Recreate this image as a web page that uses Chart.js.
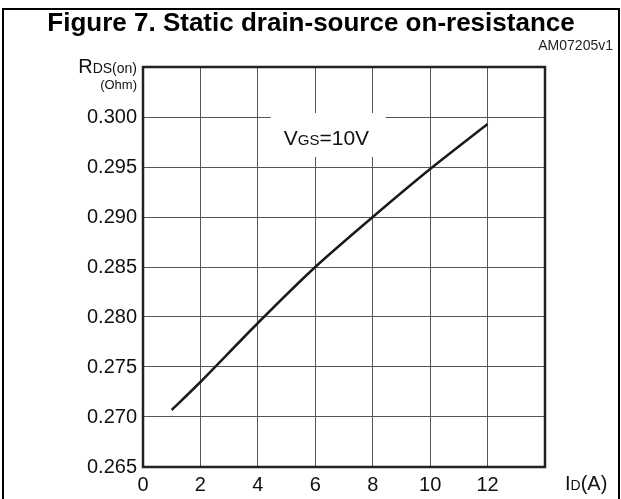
<!DOCTYPE html>
<html>
<head>
<meta charset="utf-8">
<script src="https://cdn.jsdelivr.net/npm/chart.js@4/dist/chart.umd.min.js"></script>
<style>
  html, body { margin: 0; padding: 0; background: #fff; }
  #wrap { width: 621px; height: 499px; position: relative; }
</style>
</head>
<body>
<div id="wrap"><canvas id="rdsChart"></canvas></div>
<script>
// drain current (A) and on-resistance (Ohm)
var idValues = [1, 2, 4, 6, 8, 10, 12];
var rdsValues = [0.2707, 0.2735, 0.2794, 0.2850, 0.2900, 0.2948, 0.2993];
var xTicks = [0, 2, 4, 6, 8, 10, 12];
var yTicks = [0.265, 0.270, 0.275, 0.280, 0.285, 0.290, 0.295, 0.300];

var FONT = '"Liberation Sans", Arial, sans-serif';

function drawSubText(ctx, x, y, parts) {
  // parts: [text, size] drawn left to right on one baseline
  var cx = x;
  parts.forEach(function(p) {
    ctx.font = p[1] + 'px ' + FONT;
    ctx.fillText(p[0], cx, y);
    cx += ctx.measureText(p[0]).width;
  });
  return cx - x;
}

function measureParts(ctx, parts) {
  var w = 0;
  parts.forEach(function(p) {
    ctx.font = p[1] + 'px ' + FONT;
    w += ctx.measureText(p[0]).width;
  });
  return w;
}

var decorPlugin = {
  id: 'decor',
  beforeDraw: function(chart) {
    var ctx = chart.ctx;
    ctx.save();
    ctx.fillStyle = '#fff';
    ctx.fillRect(0, 0, chart.width, chart.height);
    ctx.restore();
  },
  beforeDatasetsDraw: function(chart) {
    var ctx = chart.ctx;
    var xs = chart.scales.x, ys = chart.scales.y;
    // white box behind the VGS label
    var bx = xs.getPixelForValue(4.45), ex = xs.getPixelForValue(8.45);
    var by = ys.getPixelForValue(0.3004), ey = ys.getPixelForValue(0.296);
    ctx.save();
    ctx.fillStyle = '#fff';
    ctx.fillRect(bx, by, ex - bx, ey - by);
    ctx.fillStyle = '#111';
    ctx.textBaseline = 'alphabetic';
    drawSubText(ctx, bx + 13, by + 32, [['V', 21], ['GS', 15], ['=10V', 21]]);
    ctx.restore();
  },
  afterDraw: function(chart) {
    var ctx = chart.ctx;
    var a = chart.chartArea;
    ctx.save();
    // plot frame
    ctx.strokeStyle = '#222';
    ctx.lineWidth = 2.5;
    ctx.strokeRect(a.left, a.top, a.right - a.left, a.bottom - a.top);
    // outer figure frame
    ctx.strokeStyle = '#000';
    ctx.lineWidth = 2;
    ctx.beginPath();
    ctx.moveTo(3, 499);
    ctx.lineTo(3, 9);
    ctx.lineTo(619, 9);
    ctx.lineTo(619, 499);
    ctx.stroke();
    // title
    ctx.fillStyle = '#000';
    ctx.textAlign = 'center';
    ctx.textBaseline = 'alphabetic';
    ctx.font = 'bold 26px ' + FONT;
    ctx.fillText('Figure 7. Static drain-source on-resistance', 311, 31);
    // figure code
    ctx.textAlign = 'right';
    ctx.font = '14px ' + FONT;
    ctx.fillStyle = '#222';
    ctx.fillText('AM07205v1', 613, 50);
    // y axis title
    ctx.textAlign = 'left';
    ctx.fillStyle = '#111';
    var yParts = [['R', 20], ['DS(on)', 14]];
    drawSubText(ctx, 137 - measureParts(ctx, yParts), 73, yParts);
    ctx.textAlign = 'right';
    ctx.font = '13px ' + FONT;
    ctx.fillText('(Ohm)', 137, 89);
    // x axis title
    ctx.textAlign = 'left';
    drawSubText(ctx, 565, 490, [['I', 20], ['D', 14], ['(A)', 20]]);
    ctx.restore();
  }
};

var canvas = document.getElementById('rdsChart');
new Chart(canvas.getContext('2d'), {
  type: 'scatter',
  data: {
    datasets: [{
      data: idValues.map(function(v, i) { return { x: v, y: rdsValues[i] }; }),
      showLine: true,
      borderColor: '#1a1a1a',
      borderWidth: 2.5,
      pointRadius: 0,
      tension: 0.2,
      fill: false
    }]
  },
  options: {
    responsive: true,
    maintainAspectRatio: false,
    animation: false,
    devicePixelRatio: 1,
    layout: {
      padding: { left: 0, top: 67, right: 76, bottom: 0 }
    },
    plugins: {
      legend: { display: false },
      tooltip: { enabled: false }
    },
    scales: {
      x: {
        type: 'linear',
        min: 0,
        max: 14,
        afterBuildTicks: function(scale) {
          scale.ticks = xTicks.map(function(v) { return { value: v }; });
        },
        afterFit: function(scale) { scale.height = 32; },
        grid: { color: '#555', lineWidth: 1, drawTicks: false },
        border: { display: false },
        ticks: {
          color: '#111',
          padding: 6,
          font: { family: FONT, size: 20 },
          maxRotation: 0,
          callback: function(v) { return v; }
        }
      },
      y: {
        type: 'linear',
        min: 0.265,
        max: 0.305,
        afterBuildTicks: function(scale) {
          scale.ticks = yTicks.map(function(v) { return { value: v }; });
        },
        afterFit: function(scale) { scale.width = 143; },
        grid: { color: '#555', lineWidth: 1, drawTicks: false },
        border: { display: false },
        ticks: {
          color: '#111',
          padding: 6,
          font: { family: FONT, size: 20 },
          callback: function(v) { return Number(v).toFixed(3); }
        }
      }
    }
  },
  plugins: [decorPlugin]
});
</script>
</body>
</html>
